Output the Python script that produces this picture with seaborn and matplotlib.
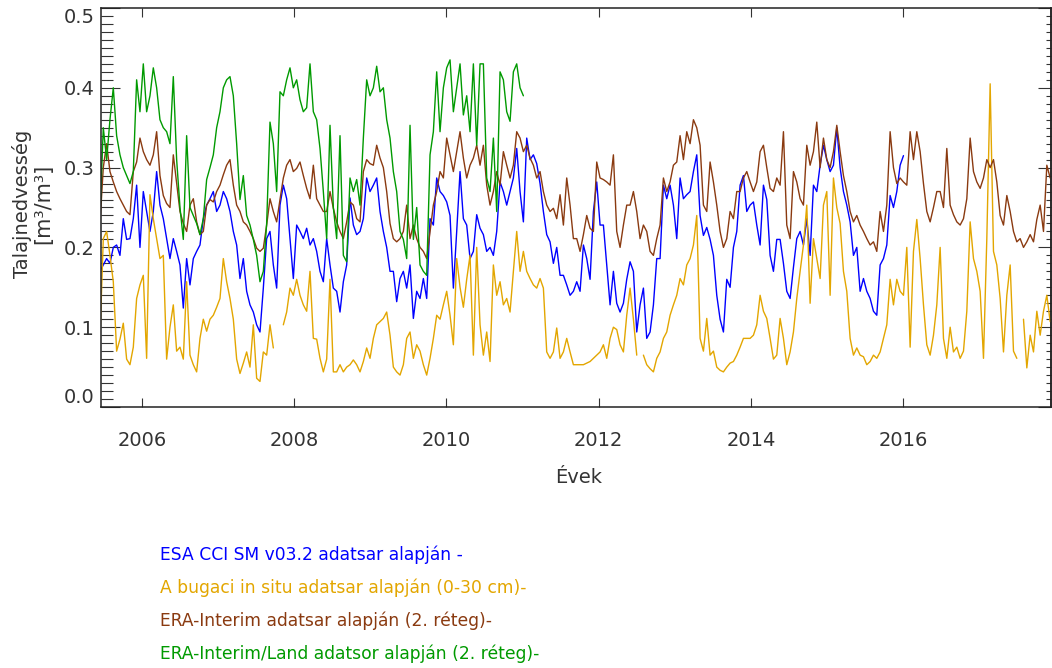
import numpy as np
import pandas as pd
import matplotlib
matplotlib.use("Agg")
import matplotlib.pyplot as plt
import matplotlib.dates as mdates
from matplotlib.ticker import MultipleLocator, FormatStrFormatter
import seaborn as sns

nan = np.nan

# values on a 16-day grid starting here
START = "2005-06-13"
STEP = "16D"

esa_cci = [
    0.17, 0.178, 0.186, 0.18, 0.2, 0.203, 0.19, 0.236, 0.21, 0.211,
    0.236, 0.278, 0.2, 0.27, 0.245, 0.22, 0.245, 0.295, 0.253, 0.236,
    0.211, 0.186, 0.211, 0.195, 0.178, 0.124, 0.186, 0.153, 0.186, 0.195,
    0.203, 0.236, 0.253, 0.261, 0.27, 0.245, 0.253, 0.27, 0.261, 0.245,
    0.22, 0.203, 0.161, 0.186, 0.145, 0.128, 0.119, 0.103,
    0.094, 0.149, 0.211, 0.22, 0.178, 0.149, 0.253, 0.278, 0.261, 0.211,
    0.161, 0.228, 0.22, 0.211, 0.224, 0.203, 0.211, 0.195, 0.17, 0.157,
    0.211, 0.178, 0.149, 0.145, 0.119, 0.157, 0.178, 0.262, 0.228, 0.216,
    0.22, 0.236, 0.287, 0.27, 0.278, 0.287, 0.245, 0.22, 0.2, 0.17,
    0.17, 0.132, 0.161, 0.17, 0.149, 0.178, 0.111, 0.145,
    0.136, 0.161, 0.136, 0.236, 0.228, 0.287, 0.27, 0.265, 0.257, 0.24,
    0.149, 0.22, 0.295, 0.236, 0.228, 0.186, 0.195, 0.241, 0.224, 0.216,
    0.195, 0.2, 0.19, 0.22, 0.282, 0.27, 0.253, 0.27, 0.287, 0.324,
    0.27, 0.232, 0.337, 0.31, 0.316, 0.305, 0.28, 0.245, 0.216, 0.207,
    0.18, 0.2, 0.165, 0.165, 0.153, 0.14, 0.145, 0.157,
    0.145, 0.203, 0.186, 0.16, 0.245, 0.282, 0.228, 0.228, 0.178, 0.128,
    0.17, 0.13, 0.119, 0.13, 0.16, 0.182, 0.17, 0.094, 0.128, 0.149,
    0.086, 0.094, 0.128, 0.186, 0.186, 0.278, 0.261, 0.278, 0.253, 0.211,
    0.287, 0.261, 0.266, 0.27, 0.295, 0.316, 0.24, 0.215, 0.225, 0.21,
    0.19, 0.14, 0.11, 0.094, 0.16, 0.15, 0.2, 0.22,
    0.278, 0.29, 0.245, 0.253, 0.257, 0.228, 0.203, 0.278, 0.26, 0.19,
    0.17, 0.21, 0.21, 0.18, 0.145, 0.136, 0.175, 0.211, 0.22, 0.203,
    0.236, 0.19, 0.278, 0.27, 0.303, 0.328, 0.31, 0.295, 0.303, 0.35,
    0.30, 0.27, 0.253, 0.232, 0.19, 0.2, 0.145, 0.161, 0.145, 0.136,
    0.12, 0.115, 0.178, 0.186, 0.203, 0.265, 0.25,
    0.27, 0.303, 0.315,
]

bugac_insitu = [
    0.086, 0.211, 0.22, 0.19, 0.157, 0.07, 0.085, 0.105, 0.06, 0.053,
    0.075, 0.136, 0.153, 0.165, 0.061, 0.266, 0.236, 0.211, 0.186, 0.19,
    0.06, 0.1, 0.128, 0.07, 0.075, 0.06, 0.157, 0.065, 0.053, 0.044,
    0.086, 0.11, 0.095, 0.11, 0.115, 0.125, 0.136, 0.186, 0.157, 0.136,
    0.11, 0.06, 0.042, 0.055, 0.069, 0.05, 0.103, 0.036,
    0.032, 0.069, 0.065, 0.103, 0.074, nan, nan, 0.103, 0.119, 0.149,
    0.14, 0.16, 0.14, 0.128, 0.12, 0.17, 0.086, 0.085, 0.061, 0.044,
    0.06, 0.16, 0.044, 0.044, 0.053, 0.044, 0.05, 0.053, 0.059, 0.053,
    0.044, 0.057, 0.074, 0.061, 0.086, 0.103, 0.107, 0.111, 0.119, 0.09,
    0.05, 0.044, 0.04, 0.053, 0.086, 0.094, 0.061, 0.078,
    0.07, 0.053, 0.04, 0.061, 0.086, 0.115, 0.11, 0.128, 0.145, 0.115,
    0.078, 0.186, 0.15, 0.125, 0.16, 0.19, 0.065, 0.2, 0.103, 0.065,
    0.094, 0.057, 0.178, 0.14, 0.157, 0.128, 0.136, 0.119, 0.17, 0.22,
    0.17, 0.195, 0.17, 0.161, 0.153, 0.149, 0.161, 0.149, 0.069, 0.061,
    0.069, 0.099, 0.061, 0.069, 0.086, 0.069, 0.053, 0.053,
    0.053, 0.053, 0.055, 0.057, 0.061, 0.065, 0.069, 0.078, 0.061, 0.086,
    0.1, 0.097, 0.078, 0.069, 0.115, 0.149, 0.11, 0.065, nan, 0.065,
    0.053, 0.048, 0.044, 0.061, 0.069, 0.086, 0.094, 0.115, 0.128, 0.14,
    0.161, 0.153, 0.178, 0.186, 0.203, 0.24, 0.086, 0.07, 0.111, 0.065,
    0.07, 0.05, 0.046, 0.044, 0.05, 0.055, 0.057, 0.065,
    0.075, 0.086, 0.086, 0.086, 0.09, 0.103, 0.14, 0.12, 0.111, 0.086,
    0.06, 0.065, 0.111, 0.086, 0.053, 0.069, 0.094, 0.136, 0.17, 0.203,
    0.253, 0.13, 0.211, 0.186, 0.161, 0.253, 0.27, 0.14, 0.287, 0.25,
    0.23, 0.17, 0.145, 0.086, 0.065, 0.074, 0.065, 0.063, 0.053, 0.057,
    0.065, 0.061, 0.069, 0.086, 0.103, 0.16, 0.128,
    0.16, 0.145, 0.14, 0.2, 0.075, 0.195, 0.235, 0.186, 0.128, 0.078,
    0.065, 0.09, 0.128, 0.2, 0.086, 0.061, 0.1, 0.069, 0.075, 0.061,
    0.07, 0.12, 0.232, 0.186, 0.17, 0.145, 0.061, 0.211, 0.405, 0.195,
    0.178, 0.136, 0.069, 0.14, 0.178, 0.07, 0.061, nan, 0.11, 0.049,
    0.09, 0.069, 0.12, 0.09, 0.12, 0.14, 0.107,
]

era_interim = [
    0.23, 0.30, 0.33, 0.295, 0.282, 0.27, 0.261, 0.253, 0.245, 0.241,
    0.295, 0.307, 0.337, 0.32, 0.31, 0.303, 0.316, 0.345, 0.29, 0.265,
    0.255, 0.25, 0.316, 0.28, 0.245, 0.23, 0.22, 0.253, 0.261, 0.232,
    0.216, 0.22, 0.253, 0.26, 0.257, 0.27, 0.278, 0.291, 0.303, 0.31,
    0.278, 0.253, 0.245, 0.232, 0.228, 0.22, 0.211, 0.199,
    0.195, 0.199, 0.228, 0.261, 0.245, 0.232, 0.26, 0.287, 0.303, 0.31,
    0.295, 0.299, 0.307, 0.29, 0.274, 0.261, 0.303, 0.261, 0.253, 0.245,
    0.245, 0.27, 0.249, 0.232, 0.22, 0.211, 0.232, 0.257, 0.253, 0.236,
    0.232, 0.295, 0.31, 0.305, 0.303, 0.328, 0.312, 0.30, 0.27, 0.23,
    0.211, 0.207, 0.211, 0.22, 0.253, 0.211, 0.228, 0.211,
    0.2, 0.195, 0.186, 0.22, 0.253, 0.27, 0.295, 0.287, 0.337, 0.316,
    0.295, 0.32, 0.345, 0.312, 0.287, 0.303, 0.312, 0.328, 0.303, 0.328,
    0.278, 0.253, 0.27, 0.295, 0.278, 0.32, 0.303, 0.287, 0.303, 0.345,
    0.337, 0.32, 0.328, 0.312, 0.303, 0.287, 0.295, 0.27, 0.253, 0.245,
    0.249, 0.236, 0.266, 0.228, 0.287, 0.253, 0.211, 0.211,
    0.195, 0.216, 0.24, 0.224, 0.22, 0.307, 0.287, 0.285, 0.282, 0.278,
    0.316, 0.22, 0.2, 0.228, 0.253, 0.253, 0.27, 0.245, 0.211, 0.228,
    0.22, 0.195, 0.19, 0.211, 0.228, 0.287, 0.27, 0.282, 0.303, 0.307,
    0.34, 0.31, 0.345, 0.33, 0.36, 0.35, 0.328, 0.253, 0.245, 0.307,
    0.282, 0.253, 0.22, 0.2, 0.211, 0.245, 0.236, 0.27,
    0.27, 0.287, 0.295, 0.282, 0.27, 0.282, 0.32, 0.328, 0.30, 0.274,
    0.27, 0.287, 0.278, 0.345, 0.228, 0.211, 0.295, 0.282, 0.261, 0.253,
    0.328, 0.303, 0.32, 0.357, 0.30, 0.337, 0.31, 0.30, 0.32, 0.353,
    0.32, 0.29, 0.27, 0.245, 0.232, 0.24, 0.228, 0.22, 0.211, 0.203,
    0.207, 0.195, 0.245, 0.22, 0.253, 0.345, 0.30,
    0.28, 0.287, 0.282, 0.278, 0.345, 0.31, 0.345, 0.32, 0.28, 0.245,
    0.232, 0.25, 0.27, 0.27, 0.25, 0.324, 0.253, 0.241, 0.232, 0.228,
    0.236, 0.261, 0.337, 0.295, 0.282, 0.274, 0.287, 0.31, 0.30, 0.31,
    0.282, 0.24, 0.228, 0.265, 0.245, 0.22, 0.207, 0.211, 0.2, 0.207,
    0.216, 0.207, 0.235, 0.253, 0.22, 0.303, 0.287,
]

era_land = [
    0.24, 0.35, 0.31, 0.36, 0.40, 0.34, 0.316, 0.30, 0.29, 0.28,
    0.295, 0.41, 0.37, 0.43, 0.37, 0.39, 0.425, 0.40, 0.36, 0.35,
    0.345, 0.33, 0.414, 0.31, 0.25, 0.21, 0.34, 0.25, 0.24, 0.23,
    0.216, 0.236, 0.285, 0.30, 0.316, 0.35, 0.37, 0.40, 0.41, 0.414,
    0.39, 0.33, 0.26, 0.29, 0.24, 0.228, 0.21, 0.19,
    0.157, 0.17, 0.23, 0.357, 0.33, 0.27, 0.395, 0.39, 0.41, 0.425,
    0.40, 0.41, 0.385, 0.37, 0.375, 0.43, 0.37, 0.36, 0.324, 0.27,
    0.211, 0.353, 0.25, 0.211, 0.34, 0.19, 0.182, 0.287, 0.27, 0.285,
    0.253, 0.337, 0.41, 0.39, 0.40, 0.427, 0.395, 0.40, 0.36, 0.337,
    0.295, 0.27, 0.22, 0.21, 0.186, 0.353, 0.21, 0.25,
    0.178, 0.17, 0.165, 0.316, 0.345, 0.42, 0.345, 0.40, 0.425, 0.435,
    0.37, 0.40, 0.43, 0.366, 0.39, 0.345, 0.43, 0.328, 0.43, 0.43,
    0.287, 0.27, 0.337, 0.245, 0.42, 0.41, 0.37, 0.358, 0.42, 0.43,
    0.40, 0.39,
]

series_names = [
    "ESA CCI SM v03.2 adatsar alapján -",
    "A bugaci in situ adatsar alapján (0-30 cm)-",
    "ERA-Interim adatsar alapján (2. réteg)-",
    "ERA-Interim/Land adatsor alapján (2. réteg)-",
]
series_colors = ["#0000ff", "#e3a600", "#8a3a10", "#009a00"]
series_values = [esa_cci, bugac_insitu, era_interim, era_land]

sns.set_style("white")
plt.rcParams["font.family"] = ["DejaVu Sans"]

# long table, gaps (NaN) split a series into separate segments
frames = []
for name, vals in zip(series_names, series_values):
    v = pd.Series(vals, dtype=float)
    part = pd.DataFrame({
        "date": pd.date_range(START, periods=len(v), freq=STEP),
        "value": v,
        "series": name,
    })
    part["segment"] = v.isna().cumsum()
    frames.append(part.dropna())
df = pd.concat(frames, ignore_index=True)

fig = plt.figure(figsize=(10.52, 6.68), dpi=100)
ax = fig.add_axes([101 / 1052, 1 - 407 / 668, 950 / 1052, 399 / 668])

sns.lineplot(
    data=df,
    x="date",
    y="value",
    hue="series",
    hue_order=series_names,
    palette=dict(zip(series_names, series_colors)),
    units="segment",
    estimator=None,
    sort=False,
    legend=False,
    linewidth=1.0,
    ax=ax,
)

ax.set_xlim(pd.Timestamp("2005-06-18"), pd.Timestamp("2017-12-11"))
ax.set_ylim(0, 0.5)

ax.xaxis.set_major_locator(mdates.YearLocator(2))
ax.xaxis.set_major_formatter(mdates.DateFormatter("%Y"))
ax.yaxis.set_major_locator(MultipleLocator(0.1))
ax.yaxis.set_minor_locator(MultipleLocator(0.01))
ax.yaxis.set_major_formatter(FormatStrFormatter("%.1f"))

text_color = "#333333"
ax.tick_params(axis="x", which="major", direction="in", length=6.5, width=0.8,
               top=True, bottom=True, pad=17, labelsize=14, colors=text_color)
ax.tick_params(axis="y", which="major", direction="in", length=14, width=0.8,
               left=True, right=False, pad=4.5, labelsize=14, colors=text_color)
ax.tick_params(axis="y", which="minor", direction="in", length=8.5, width=0.8,
               left=True, right=False, colors=text_color)

sec = ax.secondary_yaxis("right")
sec.yaxis.set_major_locator(MultipleLocator(0.1))
sec.yaxis.set_minor_locator(MultipleLocator(0.01))
sec.tick_params(which="major", direction="in", length=9.5, width=0.8,
                labelright=False, colors=text_color)
sec.tick_params(which="minor", direction="in", length=3.6, width=0.8,
                colors=text_color)

for spine in list(ax.spines.values()) + list(sec.spines.values()):
    spine.set_color("#222222")
    spine.set_linewidth(1.1)

ax.set_xlabel("Évek", fontsize=14, color=text_color)
ax.xaxis.set_label_coords(0.5026, -0.153)
ax.set_ylabel("Talajnedvesség", fontsize=14, color=text_color)
ax.yaxis.set_label_coords(-0.083, 0.51)
ax.yaxis.label.set_va("center")
ax.text(-0.061, 0.51, "[m³/m³]", rotation=90, transform=ax.transAxes,
        ha="center", va="center", fontsize=15, color=text_color)

# coloured text legend below the plot
legend_y = [0.1617, 0.1123, 0.0629, 0.0135]
for name, color, yy in zip(series_names, series_colors, legend_y):
    fig.text(160 / 1052, yy, name, color=color, fontsize=12.3,
             ha="left", va="baseline")

# keep the end labels of the y axis inside the frame
fig.canvas.draw()
for tick in ax.yaxis.get_major_ticks():
    loc = tick.get_loc()
    if abs(loc) < 1e-9:
        tick.label1.set_va("bottom")
    elif abs(loc - 0.5) < 1e-9:
        tick.label1.set_va("top")

fig.savefig("out.png", dpi=100)
